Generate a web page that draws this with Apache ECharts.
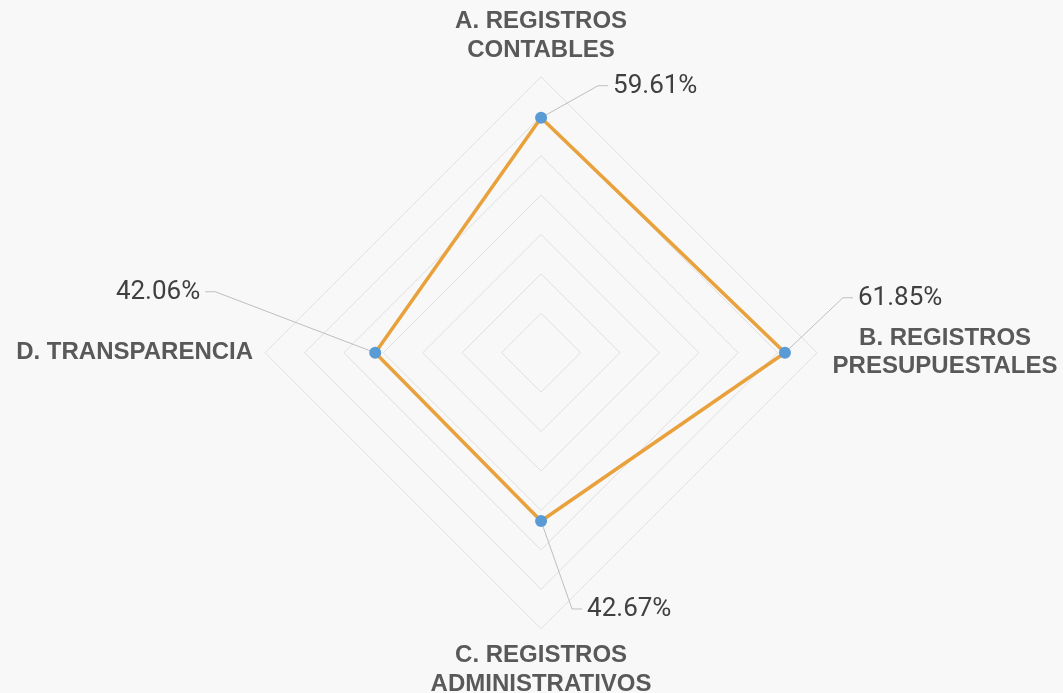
<!DOCTYPE html>
<html>
<head>
<meta charset="utf-8">
<script src="https://cdn.jsdelivr.net/npm/echarts@6/dist/echarts.min.js"></script>
<style>
    html, body { margin: 0; padding: 0; background: #F8F8F8; }
    #main { width: 1063px; height: 693px; }
</style>
</head>
<body>
<div id="main"></div>
<script>
    var categories = [
        'A. REGISTROS\nCONTABLES',
        'B. REGISTROS\nPRESUPUESTALES',
        'C. REGISTROS\nADMINISTRATIVOS',
        'D. TRANSPARENCIA'
    ];
    var values = [59.61, 61.85, 42.67, 42.06];
    var valueLabels = ['59.61%', '61.85%', '42.67%', '42.06%'];
    var axisMax = 70;

    // el radar de echarts reparte los ejes en sentido antihorario: A arriba, luego D, C, B
    var drawOrder = [0, 3, 2, 1];

    // posicion del codo de la linea guia respecto al punto, y hacia donde sale el texto
    var leaderOffsets = [[57, -32], [58, -55], [31, 88], [-160, -61]];
    var leaderSide = [1, 1, 1, -1];

    var chart = echarts.init(document.getElementById('main'));

    var nameColor = '#595959';

    var option = {
        backgroundColor: '#F8F8F8',
        radar: {
            center: ['50.9%', '50.9%'],
            radius: 276,
            startAngle: 90,
            shape: 'polygon',
            splitNumber: 7,
            nameGap: 12,
            indicator: drawOrder.map(function (k) {
                return { name: categories[k], min: 0, max: axisMax };
            }),
            axisName: {
                color: nameColor,
                fontFamily: 'Liberation Sans',
                fontWeight: 'bold',
                fontSize: 24,
                lineHeight: 29,
                formatter: function (name) {
                    if (name.indexOf('B.') === 0) {
                        return name.split('\n').map(function (l) {
                            return '{b|' + l + '}';
                        }).join('\n');
                    }
                    return name;
                },
                rich: {
                    b: {
                        width: 232,
                        align: 'center',
                        color: nameColor,
                        fontFamily: 'Liberation Sans',
                        fontWeight: 'bold',
                        fontSize: 24,
                        lineHeight: 28
                    }
                }
            },
            axisLine: { show: false },
            axisTick: { show: false },
            splitArea: { show: false },
            splitLine: {
                lineStyle: { color: '#E0E0E0', width: 1 }
            }
        },
        series: [{
            type: 'radar',
            symbol: 'circle',
            symbolSize: 12,
            z: 3,
            itemStyle: { color: '#5B9BD5' },
            lineStyle: { color: '#E9A13B', width: 3.5 },
            data: [{ value: drawOrder.map(function (k) { return values[k]; }) }]
        }]
    };

    chart.setOption(option);

    // etiquetas de valor con linea guia, ubicadas a partir del sistema de coordenadas del radar
    var radarCs = chart.getModel().getComponent('radar').coordinateSystem;
    var graphics = [];
    drawOrder.forEach(function (k, pos) {
        var p = radarCs.dataToPoint(values[k], pos);
        var ex = p[0] + leaderOffsets[k][0];
        var ey = p[1] + leaderOffsets[k][1];
        var tx = ex + leaderSide[k] * 10;
        graphics.push({
            type: 'polyline',
            silent: true,
            z: 1,
            shape: { points: [p, [ex, ey], [tx, ey]] },
            style: { stroke: '#BFBFBF', lineWidth: 1, fill: null }
        });
        graphics.push({
            type: 'text',
            silent: true,
            x: tx + leaderSide[k] * 5,
            y: ey + 1,
            style: {
                text: valueLabels[k],
                fill: '#404040',
                fontFamily: 'Roboto',
                fontSize: 26,
                align: leaderSide[k] > 0 ? 'left' : 'right',
                verticalAlign: 'middle'
            }
        });
    });
    chart.setOption({ graphic: graphics });

    window.addEventListener('resize', function () {
        chart.resize();
    });
</script>
</body>
</html>
